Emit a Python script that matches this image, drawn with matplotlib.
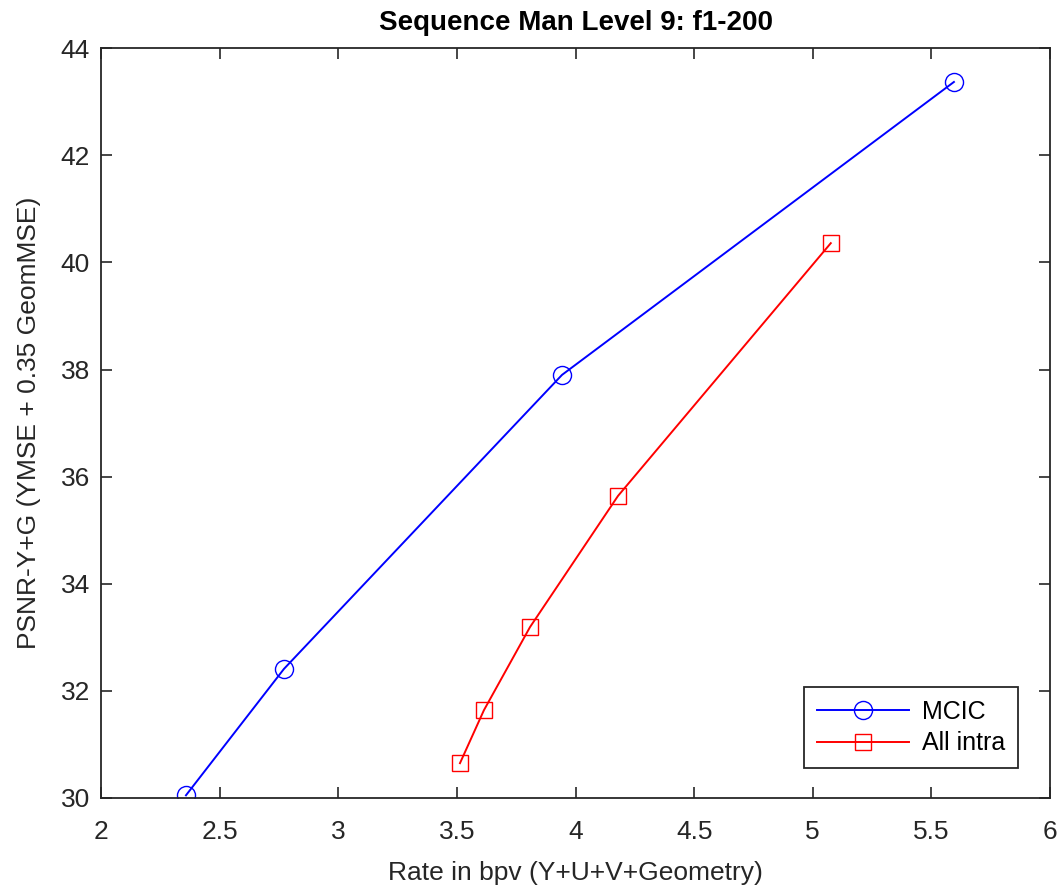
import matplotlib.pyplot as plt

# rate (bpv) vs PSNR values
mcic_rate = [2.358, 2.771, 3.943, 5.595]
mcic_psnr = [30.05, 32.41, 37.90, 43.37]
intra_rate = [3.513, 3.614, 3.808, 4.179, 5.076]
intra_psnr = [30.65, 31.64, 33.19, 35.64, 40.36]

xticks = [2, 2.5, 3, 3.5, 4, 4.5, 5, 5.5, 6]
xticklabels = ['2', '2.5', '3', '3.5', '4', '4.5', '5', '5.5', '6']
yticks = [30, 32, 34, 36, 38, 40, 42, 44]

plt.rcParams['font.family'] = ['Liberation Sans', 'DejaVu Sans']
axis_color = '#262626'

fig = plt.figure(figsize=(10.59, 8.93), dpi=100)
ax = fig.add_axes([0.0954, 0.1064, 0.8961, 0.8396])

ax.plot(mcic_rate, mcic_psnr, color='#0000ff', marker='o', markersize=13,
        markerfacecolor='none', linewidth=1.4, label='MCIC')
ax.plot(intra_rate, intra_psnr, color='#ff0000', marker='s', markersize=11,
        markerfacecolor='none', linewidth=1.4, label='All intra')

ax.set_xlim(2, 6)
ax.set_ylim(30, 44)
ax.set_xticks(xticks)
ax.set_xticklabels(xticklabels)
ax.set_yticks(yticks)
ax.tick_params(direction='in', top=True, right=True, length=8, width=1.2,
               labelsize=19, colors=axis_color)
ax.tick_params(axis='x', pad=16)
ax.tick_params(axis='y', pad=8)
for s in ax.spines.values():
    s.set_color(axis_color)
    s.set_linewidth(1.3)

ax.set_title('Sequence Man Level 9: f1-200', fontsize=20, fontweight='bold', pad=13)
ax.set_xlabel('Rate in bpv (Y+U+V+Geometry)', fontsize=19, color=axis_color, labelpad=12)
ax.set_ylabel('PSNR-Y+G (YMSE + 0.35 GeomMSE)', fontsize=19, color=axis_color, labelpad=14)

leg = ax.legend(loc='lower right', fontsize=18, fancybox=False, framealpha=1,
                edgecolor=axis_color, borderpad=0.5, handlelength=3.7,
                handletextpad=0.5, borderaxespad=0,
                bbox_to_anchor=(0.966, 0.04), labelspacing=0.3)
leg.get_frame().set_linewidth(1.3)

fig.savefig('out.png', dpi=100)
